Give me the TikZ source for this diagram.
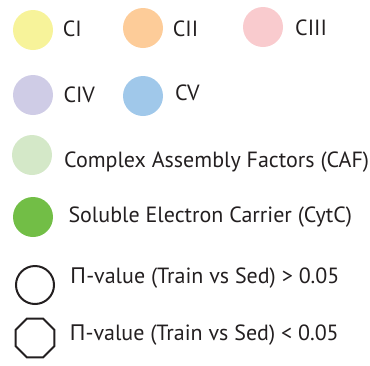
\documentclass[tikz,border=0pt]{standalone}
\usepackage{fontspec}
\setmainfont{PT Sans}
\newfontfamily\greekfont{Noto Sans}
\usetikzlibrary{shapes.geometric}
\definecolor{cI}{RGB}{247,243,154}
\definecolor{cII}{RGB}{253,204,153}
\definecolor{cIII}{RGB}{249,203,206}
\definecolor{cIV}{RGB}{207,204,230}
\definecolor{cV}{RGB}{160,200,234}
\definecolor{cCAF}{RGB}{212,232,200}
\definecolor{cCyt}{RGB}{114,190,70}
\definecolor{ink}{RGB}{35,31,32}
\begin{document}
\begin{tikzpicture}[x=1pt,y=-1pt,
  dot/.style={circle,minimum size=40pt,inner sep=0pt},
  lbl/.style={anchor=base west,inner sep=0pt,font=\fontsize{22}{26}\selectfont,text=ink},
  outl/.style={draw=ink,line width=2pt,inner sep=0pt}]
\useasboundingbox (0,0) rectangle (370,365);
\node[dot,fill=cI] (d1) at (33,30) {};
\node[lbl] (t1) at (62.7,36.7) {CI};
\node[dot,fill=cII] (d2) at (143,28) {};
\node[lbl] (t2) at (172.7,36) {CII};
\node[dot,fill=cIII] (d3) at (263,27) {};
\node[lbl] (t3) at (295,35) {CIII};
\node[dot,fill=cIV] (d4) at (33,95) {};
\node[lbl] (t4) at (63.3,102) {CIV};
\node[dot,fill=cV] (d5) at (143,96) {};
\node[lbl] (t5) at (175,100) {CV};
\node[dot,fill=cCAF] (d6) at (32,155) {};
\node[lbl] (t6) at (64,167) {Complex Assembly Factors (CAF)};
\node[dot,fill=cCyt] (d7) at (33,217) {};
\node[lbl] (t7) at (68.3,222) {Soluble Electron Carrier (CytC)};
\node[outl,circle,minimum size=38pt] (o1) at (35,285) {};
\node[lbl] (t8) at (70,283) {{\greekfont Π}-value (Train vs Sed) > 0.05};
\node[outl,regular polygon,regular polygon sides=8,minimum size=42pt] (o2) at (35,338) {};
\node[lbl] (t9) at (69.3,340) {{\greekfont Π}-value (Train vs Sed) < 0.05};
\end{tikzpicture}
\end{document}
